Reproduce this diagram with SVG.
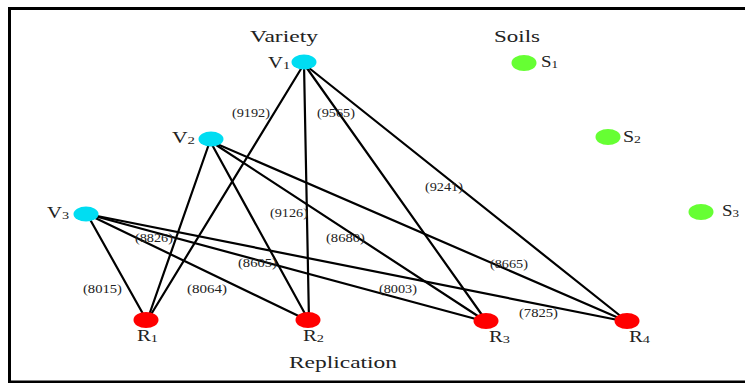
<svg xmlns="http://www.w3.org/2000/svg" width="745" height="383" viewBox="0 0 745 383">
<style>
.t{font-family:"Liberation Serif","Times New Roman",serif;fill:#222}
.h{font-size:17px}
.n{font-size:16px}
.s{font-size:11px}
.e{font-size:12px}
.v{fill:#00DDF2}
.r{fill:#FF0000}
.g{fill:#66FF33}
.c line{stroke:#000;stroke-width:2.2;stroke-linecap:round}
</style>
<rect width="745" height="383" fill="#fff"/>
<path d="M747 8.5 H9.5 V382 H747" fill="none" stroke="#000" stroke-width="3"/>
<text class="t h" x="250" y="42" textLength="68" lengthAdjust="spacingAndGlyphs">Variety</text>
<text class="t h" x="494" y="42" textLength="46" lengthAdjust="spacingAndGlyphs">Soils</text>
<text class="t h" x="289" y="368" textLength="108" lengthAdjust="spacingAndGlyphs">Replication</text>
<g class="c" id="connectors">
<line x1="304" y1="64" x2="147" y2="321"/>
<line x1="304" y1="64" x2="309" y2="321"/>
<line x1="304" y1="64" x2="487" y2="322"/>
<line x1="304" y1="64" x2="628" y2="322"/>
<line x1="210" y1="141" x2="147" y2="321"/>
<line x1="210" y1="141" x2="309" y2="321"/>
<line x1="210" y1="141" x2="487" y2="322"/>
<line x1="210" y1="141" x2="628" y2="322"/>
<line x1="87" y1="214" x2="147" y2="321"/>
<line x1="87" y1="214" x2="309" y2="321"/>
<line x1="87" y1="214" x2="487" y2="322"/>
<line x1="87" y1="214" x2="628" y2="322"/>
</g>
<g id="edge-labels">
<text class="t e" x="232" y="117" textLength="38" lengthAdjust="spacingAndGlyphs">(9192)</text>
<text class="t e" x="317" y="117" textLength="38" lengthAdjust="spacingAndGlyphs">(9565)</text>
<text class="t e" x="425" y="191" textLength="38" lengthAdjust="spacingAndGlyphs">(9241)</text>
<text class="t e" x="270" y="217" textLength="38" lengthAdjust="spacingAndGlyphs">(9126)</text>
<text class="t e" x="326" y="242" textLength="39" lengthAdjust="spacingAndGlyphs">(8680)</text>
<text class="t e" x="135" y="242" textLength="38" lengthAdjust="spacingAndGlyphs">(8826)</text>
<text class="t e" x="238" y="267" textLength="39" lengthAdjust="spacingAndGlyphs">(8605)</text>
<text class="t e" x="490" y="268" textLength="38" lengthAdjust="spacingAndGlyphs">(8665)</text>
<text class="t e" x="83" y="293" textLength="39" lengthAdjust="spacingAndGlyphs">(8015)</text>
<text class="t e" x="187" y="293" textLength="40" lengthAdjust="spacingAndGlyphs">(8064)</text>
<text class="t e" x="379" y="293" textLength="38" lengthAdjust="spacingAndGlyphs">(8003)</text>
<text class="t e" x="519" y="317" textLength="39" lengthAdjust="spacingAndGlyphs">(7825)</text>
</g>
<g id="V1"><ellipse class="v" cx="304" cy="62" rx="12.5" ry="7.5"/><text class="t n" x="268" y="68" textLength="22" lengthAdjust="spacingAndGlyphs">V<tspan class="s" dy="1">1</tspan></text></g>
<g id="V2"><ellipse class="v" cx="211" cy="139" rx="12.5" ry="7.5"/><text class="t n" x="172" y="143" textLength="23" lengthAdjust="spacingAndGlyphs">V<tspan class="s" dy="1">2</tspan></text></g>
<g id="V3"><ellipse class="v" cx="86" cy="214" rx="12.5" ry="7.5"/><text class="t n" x="47" y="218" textLength="22" lengthAdjust="spacingAndGlyphs">V<tspan class="s" dy="1">3</tspan></text></g>
<g id="S1"><ellipse class="g" cx="524" cy="63" rx="12.5" ry="8"/><text class="t n" x="541" y="67" textLength="17" lengthAdjust="spacingAndGlyphs">S<tspan class="s" dy="1">1</tspan></text></g>
<g id="S2"><ellipse class="g" cx="608" cy="137" rx="12.5" ry="8"/><text class="t n" x="623" y="142" textLength="18" lengthAdjust="spacingAndGlyphs">S<tspan class="s" dy="1">2</tspan></text></g>
<g id="S3"><ellipse class="g" cx="701" cy="212" rx="12.5" ry="8"/><text class="t n" x="722" y="216" textLength="17" lengthAdjust="spacingAndGlyphs">S<tspan class="s" dy="1">3</tspan></text></g>
<g id="R1"><ellipse class="r" cx="146" cy="320" rx="12.5" ry="8"/><text class="t n" x="137" y="341" textLength="21" lengthAdjust="spacingAndGlyphs">R<tspan class="s" dy="1">1</tspan></text></g>
<g id="R2"><ellipse class="r" cx="308" cy="320" rx="12.5" ry="8"/><text class="t n" x="303" y="341" textLength="21" lengthAdjust="spacingAndGlyphs">R<tspan class="s" dy="1">2</tspan></text></g>
<g id="R3"><ellipse class="r" cx="486" cy="321" rx="12.5" ry="8"/><text class="t n" x="489" y="342" textLength="21" lengthAdjust="spacingAndGlyphs">R<tspan class="s" dy="1">3</tspan></text></g>
<g id="R4"><ellipse class="r" cx="627" cy="321" rx="12.5" ry="8"/><text class="t n" x="629" y="342" textLength="21" lengthAdjust="spacingAndGlyphs">R<tspan class="s" dy="1">4</tspan></text></g>
</svg>
